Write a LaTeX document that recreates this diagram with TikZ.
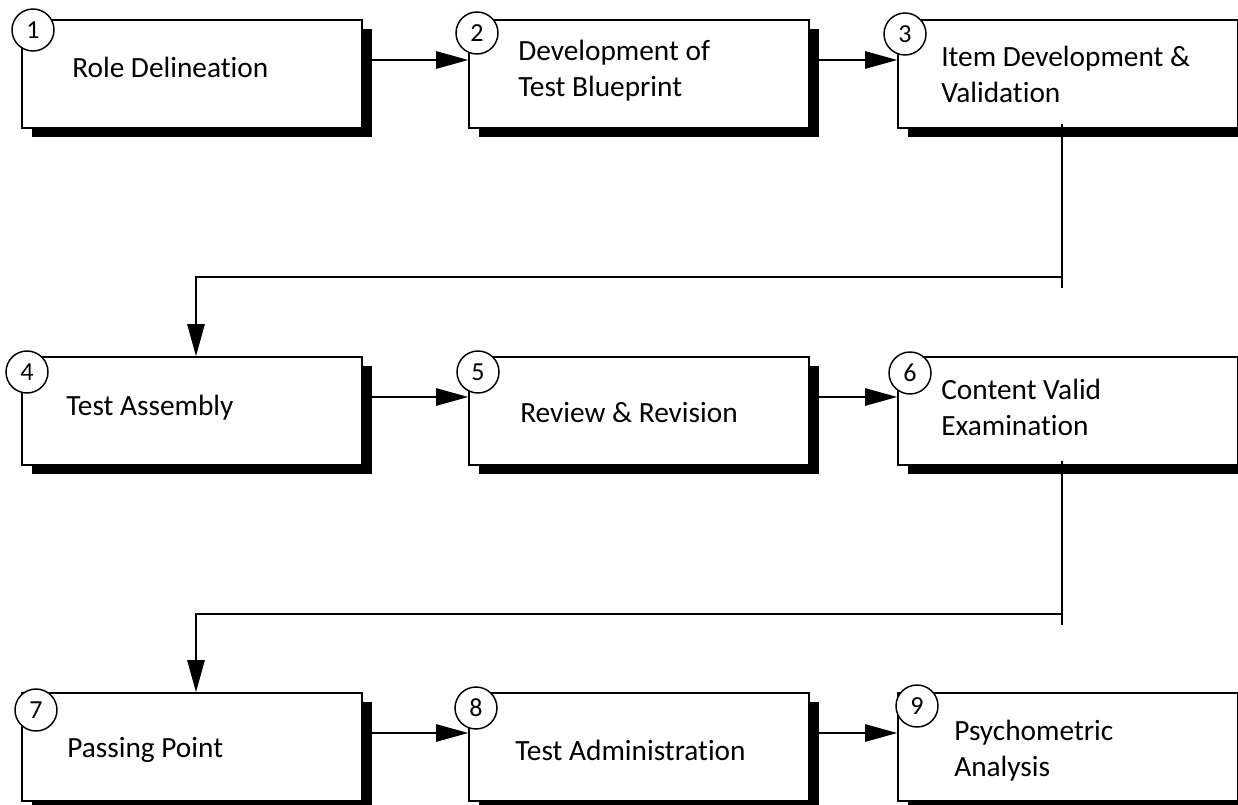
\documentclass[tikz,border=0pt]{standalone}
\usepackage{fontspec}
\setmainfont{Carlito}[Ligatures=NoCommon]
\usetikzlibrary{arrows.meta,calc,shadows}

\begin{document}
\begin{tikzpicture}[x=0.75pt,y=-0.75pt,every node/.style={font=\fontsize{22}{27}\selectfont}]
  \tikzset{
    stage/.style={draw,fill=white,line width=1.2pt,minimum width=255pt,minimum height=81pt,inner sep=0pt,
      drop shadow={shadow xshift=7.5pt,shadow yshift=-6.75pt,opacity=1,fill=black}},
    num/.style={circle,draw,fill=white,line width=1.1pt,minimum size=31.5pt,inner sep=0pt,font=\fontsize{19.5}{20}\selectfont},
    txt/.style={anchor=base west,align=left,inner sep=0pt},
    arr/.style={-{Triangle[length=24pt,width=13pt]},line width=1.1pt},
    link/.style={line width=1.1pt}
  }
  \useasboundingbox (0,0) rectangle (1238,805);
  % the nine stages
  \foreach \n/\x/\y in {1/192/74,2/639/74,3/1068/74,4/192/411,5/639/411,6/1068/411,7/192/747,8/639/747,9/1068/747}
    \node[stage] (b\n) at (\x,\y) {};
  % labels, placed on the baseline of their last line
  \foreach \n/\x/\y/\t in {1/72/78/{Role Delineation},2/518/97/{Development of\\Test Blueprint},
      3/941/103/{Item Development \&\\Validation},4/66/415/{Test Assembly},5/520/422/{Review \& Revision},
      6/941/435/{Content Valid\\Examination},7/67/757/{Passing Point},8/515/760/{Test Administration},
      9/954/776/{Psychometric\\Analysis}}
    \node[txt] (l\n) at (\x,\y) {\t};
  % arrows within a row
  \foreach \a/\b in {1/2,2/3,4/5,5/6,7/8,8/9}
    \draw[arr] ($(b\a.east)+(0,-14)$) -- ($(b\b.west)+(0,-14)$);
  % arrows back to the next row
  \foreach \a/\b in {3/4,6/7} {
    \coordinate (s\a) at ($(b\a.south)+(-6,-5)$);
    \coordinate (t\a) at ($(b\a.south)+(-6,159)$);
    \coordinate (k\a) at ($(b\a.south)+(-6,148)$);
    \draw[link] (s\a) -- (t\a);
    \draw[arr] (k\a) -| ($(b\b.north)+(4,0)$);
  }
  % step numbers
  \foreach \n/\x/\y in {1/33/30,2/477/33,3/905/34,4/27/372,5/478/372,6/910/373,7/36/710,8/476/708,9/917/706}
    \node[num] (c\n) at (\x,\y) {\n};
\end{tikzpicture}
\end{document}
